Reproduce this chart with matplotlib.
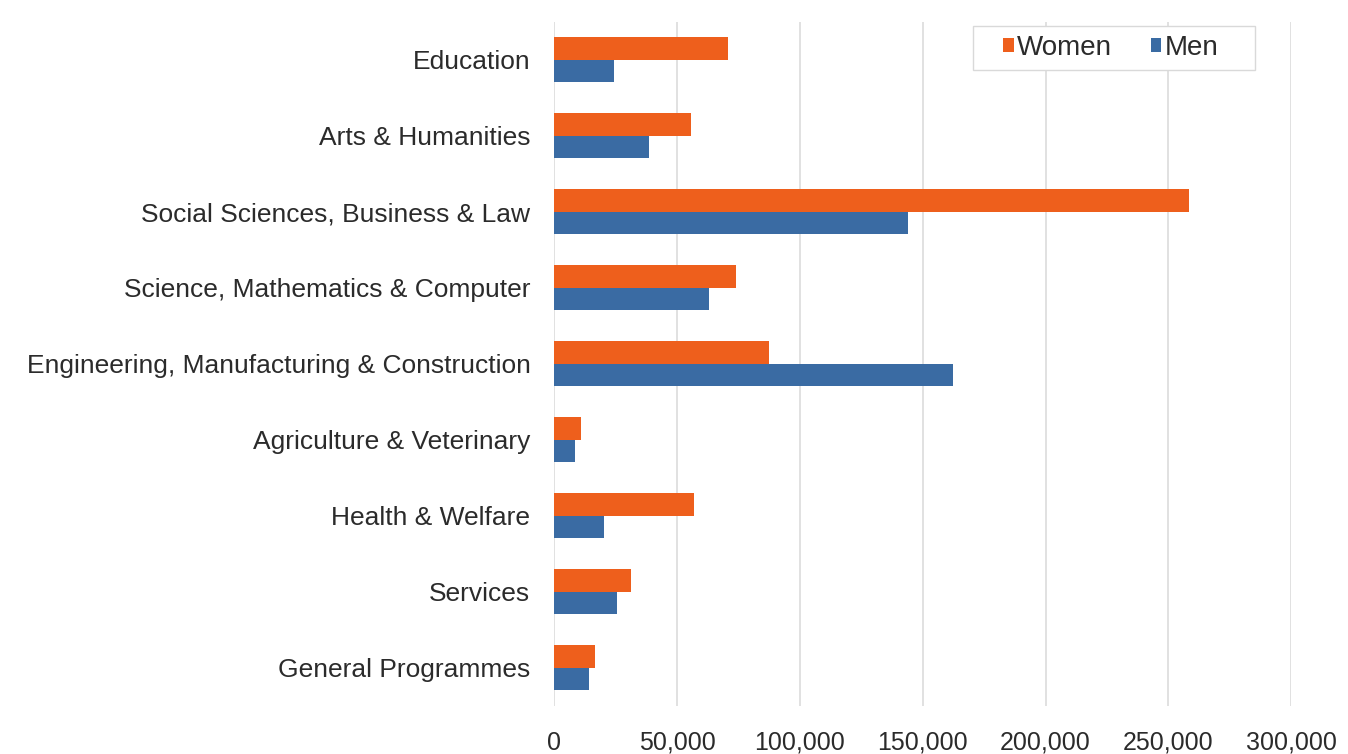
import numpy as np
import matplotlib.pyplot as plt
from matplotlib.patches import Rectangle
from matplotlib.ticker import FuncFormatter

# graduates by field of study and sex
fields = [
    "Education",
    "Arts & Humanities",
    "Social Sciences, Business & Law",
    "Science, Mathematics & Computer",
    "Engineering, Manufacturing & Construction",
    "Agriculture & Veterinary",
    "Health & Welfare",
    "Services",
    "General Programmes",
]
women = [70600, 55800, 258500, 74200, 87600, 10800, 57100, 31400, 16600]
men = [24400, 38800, 143900, 63200, 162200, 8400, 20400, 25600, 14300]

x_ticks = [0, 50000, 100000, 150000, 200000, 250000, 300000]

WOMEN_COLOR = "#EE5F1C"
MEN_COLOR = "#3A6BA3"
TEXT_COLOR = "#2b2b2b"

plt.rcParams["font.family"] = ["Liberation Sans", "DejaVu Sans"]

fig = plt.figure(figsize=(13.48, 7.54), dpi=100)
ax = fig.add_axes([0.411, 0.064, 0.547, 0.907])

y = np.arange(len(fields))
h = 0.295
ax.barh(y - h / 2, women, height=h, color=WOMEN_COLOR, label="Women", zorder=3)
ax.barh(y + h / 2, men, height=h, color=MEN_COLOR, label="Men", zorder=3)

ax.set_ylim(len(fields) - 0.5, -0.5)
ax.set_yticks(y)
ax.set_yticklabels(fields, fontsize=19, color=TEXT_COLOR)

ax.set_xlim(0, 300000)
ax.set_xticks(x_ticks)
ax.xaxis.set_major_formatter(FuncFormatter(lambda v, _: f"{int(v):,}"))
ax.tick_params(axis="x", labelsize=18, labelcolor=TEXT_COLOR, length=0, pad=18)
ax.tick_params(axis="y", length=0, pad=17)

ax.grid(axis="x", color="#dcdcdc", linewidth=1.2, zorder=0)
for s in ax.spines.values():
    s.set_visible(False)

# white box behind the legend, wider than the entries
box = Rectangle((0.5685, 0.930), 0.3815, 0.064, transform=ax.transAxes,
                facecolor="white", edgecolor="#d9d9d9", linewidth=1.0,
                zorder=4, clip_on=False)
ax.add_patch(box)

leg = ax.legend(loc="center left", bbox_to_anchor=(0.609, 0.962), ncol=2,
                fontsize=20, frameon=False, handlelength=0.38,
                handleheight=0.38, handletextpad=0.12, columnspacing=1.4,
                borderpad=0, borderaxespad=0)
leg.set_zorder(5)
for t in leg.get_texts():
    t.set_color(TEXT_COLOR)

fig.savefig("out.png", dpi=100)
